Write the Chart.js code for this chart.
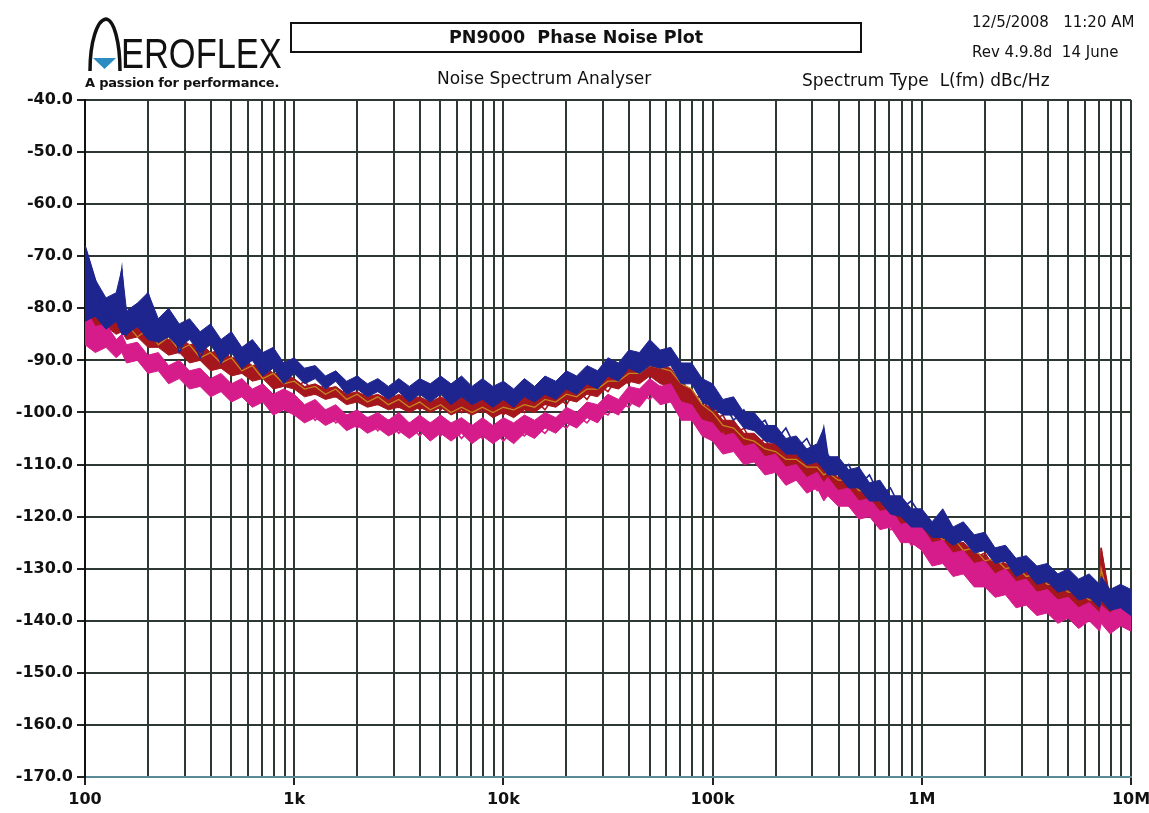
<!DOCTYPE html>
<html><head><meta charset="utf-8">
<script src="https://cdn.jsdelivr.net/npm/chart.js@4/dist/chart.umd.min.js"></script>
<style>
html,body{margin:0;padding:0;background:#fff;}
#wrap{position:relative;width:1149px;height:813px;overflow:hidden;}
#c{position:absolute;left:0;top:0;}
.t{position:absolute;font-family:'DejaVu Sans',sans-serif;color:#111;white-space:pre;line-height:1;}
#titlebox{position:absolute;left:290px;top:22px;width:568px;height:27px;border:2px solid #111;text-align:center;font-family:'DejaVu Sans',sans-serif;font-weight:bold;font-size:17.5px;line-height:27px;color:#111;white-space:pre;}
#logo{position:absolute;left:0;top:0;}
#brand{position:absolute;left:121px;top:33px;font-family:'Liberation Sans',Arial,sans-serif;font-size:42px;line-height:1;color:#111;transform:scaleX(0.82);transform-origin:0 0;white-space:pre;}
#tag{position:absolute;left:85px;top:76px;font-family:'DejaVu Sans',sans-serif;font-weight:bold;font-size:13px;line-height:1;color:#111;white-space:pre;letter-spacing:-0.2px;}
</style></head>
<body>
<div id="wrap">
<canvas id="c" width="1149" height="813"></canvas>
<svg id="logo" width="300" height="100">
  <path d="M 90 71 C 90 42, 97 20, 106 19 C 114 20, 120 42, 120 71" fill="none" stroke="#111" stroke-width="3.5"/>
  <polygon points="93,58 116,58 104.5,69" fill="#2a8cc0"/>
</svg>
<div id="brand">EROFLEX</div>
<div id="tag">A passion for performance.</div>
<div id="titlebox">PN9000  Phase Noise Plot</div>
<div class="t" style="left:972px;top:15px;font-size:15px;">12/5/2008   11:20 AM</div>
<div class="t" style="left:972px;top:45px;font-size:15px;">Rev 4.9.8d  14 June</div>
<div class="t" style="left:437px;top:70px;font-size:17px;">Noise Spectrum Analyser</div>
<div class="t" style="left:802px;top:72px;font-size:17px;">Spectrum Type  L(fm) dBc/Hz</div>
</div>
<script>
// ---- data ----
const freqs = [100,112,126,141,150,158,178,200,224,251,282,316,355,398,447,501,562,631,708,794,891,
1000,1120,1260,1410,1580,1780,2000,2240,2510,2820,3160,3550,3980,4470,5010,5620,6310,7080,7940,8910,
10000,11200,12600,14100,15800,17800,20000,22400,25100,28200,31600,35500,39800,44700,50100,56200,63100,70800,79400,89100,
100000,112000,126000,141000,158000,178000,200000,224000,251000,282000,316000,340000,355000,398000,447000,501000,562000,631000,708000,794000,891000,
1000000,1120000,1260000,1410000,1580000,1780000,2000000,2240000,2510000,2820000,3160000,3550000,3980000,4470000,5010000,5620000,6310000,7080000,7200000,7940000,8910000,
10000000];

// noisy trace readings (dBc/Hz)
const blueVals = [-68,-74.5,-83,-80,-72.5,-85,-81.5,-77,-84,-81,-88.5,-84.5,-89.5,-85.5,-90.5,-86.5,-91.5,-87.5,-92.5,-88.5,-93.5,
-91,-93.5,-91.5,-94,-92.5,-95,-93,-95.5,-94,-96.5,-94.5,-97,-94.5,-97.5,-94.5,-98,-94.5,-98,-95,-98.5,
-95.5,-98,-95,-97.5,-94.5,-97,-93.5,-96,-92.5,-95,-91,-93.5,-89.5,-92,-86.5,-90.5,-88.5,-93,-91.5,-96.5,
-99.5,-98,-101.5,-99.5,-103,-101.5,-105.5,-103,-107,-105,-109,-103,-108,-111.5,-110,-114,-112,-116,-114.5,-118.5,-117,
-120,-122.5,-119.5,-124,-122.5,-126,-124.5,-128,-126.5,-130,-128.5,-132,-130.5,-133.5,-131.5,-134.5,-132.5,-135.5,-133.5,-136.5,-134,
-137.5];
// noise band envelopes (upper / lower edge)
const blueHi = [-68,-74.5,-78,-77,-72.5,-80.5,-79,-77,-82,-80,-83,-82,-84.5,-83,-86,-84.5,-87.5,-86,-88.5,-87.5,-90.5,
-89.5,-91.5,-91,-93,-92,-94,-93,-94.5,-93.5,-95,-93.5,-95,-93.5,-94.5,-93,-94.5,-93,-95,-93.5,-95,
-94,-95.5,-93.5,-95,-93,-94,-92,-93,-91,-92,-89.5,-90.5,-88,-88.5,-86,-88,-87.5,-90.5,-90.5,-93.5,
-94.5,-97.5,-97,-100,-100,-102.5,-102.5,-105,-104.5,-107,-106,-103,-108.5,-108.5,-111,-110.5,-113.5,-113,-116,-116,-118.5,
-118.5,-121,-118.5,-122,-121,-123.5,-123,-126,-125.5,-128,-127.5,-129.5,-129,-131,-130,-132,-131,-133,-131.5,-134,-133,
-134];
const blueLo = [-82.5,-81.5,-84,-82.5,-85,-85,-83.5,-86,-86.5,-85.5,-87.5,-86,-88.5,-87,-90,-88.5,-91.5,-90,-93,-91.5,-94.5,
-92.5,-94.5,-93.5,-95.5,-94,-96.5,-95.5,-97,-96,-97.5,-96,-98,-96.5,-98,-96.5,-98.5,-97,-98.5,-97.5,-99,
-97.5,-99,-97,-98,-96.5,-97.5,-95.5,-96.5,-94.5,-95.5,-93,-94,-91.5,-92.5,-91,-91.5,-91,-94.5,-94.5,-98,
-99,-100.5,-100.5,-103,-103.5,-105.5,-106,-108,-108,-110,-109.5,-111,-112,-112,-114.5,-114.5,-117,-117,-119.5,-120,-122,
-122,-124,-124,-125.5,-124.5,-127,-126.5,-129,-128.5,-131.5,-130.5,-133,-132.5,-134.5,-134,-136,-135.5,-137.5,-136,-138,-137.5,
-139];

const redVals = [-79.5,-83,-81,-84,-82,-85,-83,-86.5,-84.5,-88,-86,-89.5,-87.5,-90.5,-88.5,-91.5,-90,-93,-91,-94,-92.5,
-95.5,-94,-96.5,-94.5,-97,-95.5,-97.5,-96,-98.5,-96.5,-99,-97,-99.5,-97.5,-99.5,-97.5,-100,-98,-100,-98,
-100.5,-98,-100,-97.5,-99.5,-96.5,-98.5,-95.5,-97.5,-94.5,-96,-93,-94.5,-91.5,-93,-90.5,-94,-93.5,-97,-97,
-101.5,-100.5,-104.5,-103,-106.5,-105,-108.5,-107,-110,-108.5,-111.5,-110.5,-112,-111.5,-114.5,-113.5,-116.5,-115.5,-119,-118,-121.5,
-121.5,-124.5,-123.5,-126,-125,-128,-127,-130,-128.5,-131,-130,-133,-132,-134.5,-133,-136,-134.5,-137,-126,-137.5,-136,
-138];
const redHi = [-78.5,-80.5,-80.5,-82,-81.5,-83,-82.5,-84.5,-84,-86,-85.5,-87,-86.5,-88.5,-88,-89.5,-89.5,-91,-90.5,-92.5,-92.5,
-93.5,-95,-94.5,-95.5,-95,-96.5,-96,-97,-96.5,-97.5,-96.5,-97.5,-97,-98,-97,-98,-97,-98.5,-97.5,-98.5,
-97.5,-98,-96.5,-97,-95.5,-96,-94.5,-95,-93.5,-94,-92,-92.5,-90.5,-91,-89.5,-91,-91.5,-94.5,-95.5,-98.5,
-99,-101.5,-101.5,-104,-104,-106,-106,-108,-108,-110,-109.5,-111,-110.5,-112.5,-112.5,-114.5,-115,-117,-117,-119.5,-119.5,
-121,-123,-123,-125,-125,-127,-127.5,-129,-129,-130.5,-130,-131.5,-131,-132.5,-132,-134,-133.5,-135,-126,-135.5,-135,
-136];
const redLo = [-82.5,-84,-83.5,-85,-84.5,-86,-85.5,-87.5,-87.5,-89,-88.5,-90.5,-90,-92,-91.5,-93,-92.5,-94,-93.5,-95.5,-95,
-95.5,-97,-96.5,-97.5,-97,-98.5,-98,-99,-98.5,-99.5,-99,-100,-99,-100,-99,-100.5,-99.5,-100.5,-99.5,-101,
-100,-101,-99.5,-100,-98.5,-99,-97.5,-98,-96.5,-97,-95,-95.5,-94,-94.5,-93,-94.5,-95,-98,-99,-102,
-103,-105,-105.5,-107.5,-107.5,-109.5,-109.5,-111.5,-111.5,-113,-112.5,-114,-113.5,-115.5,-115.5,-117.5,-118,-120.5,-120.5,-123,-123,
-124.5,-126.5,-126.5,-128.5,-128.5,-130.5,-131,-132.5,-132.5,-134,-133.5,-135,-134.5,-136,-135.5,-137.5,-137,-138.5,-138,-139,-138.5,
-139.5];

const brownVals = [-81,-80,-83.5,-82,-84,-83,-85.5,-84,-87,-85.5,-88,-87,-89.5,-88.5,-90.5,-89.5,-92,-91,-93.5,-92.5,-94.5,
-94,-95.5,-95,-96.5,-95.5,-97.5,-96.5,-98,-97,-98.5,-97.5,-99,-98,-99.5,-98.5,-100,-99,-100,-99,-100,
-99,-99.5,-98.5,-99,-97.5,-98,-96.5,-97,-95.5,-95.5,-94,-94,-92.5,-92.5,-91,-91.5,-92,-94.5,-95.5,-98.5,
-100,-102.5,-103,-105,-105.5,-107,-107.5,-109,-109,-110.5,-110.5,-112,-111.5,-113,-113,-115,-115,-117,-117.5,-119.5,-120,
-122,-122,-124.5,-124,-126.5,-126,-128.5,-128,-130,-129.5,-131.5,-131,-133,-133,-134.5,-134.5,-136,-136,-130,-137,-137.5,
-135];

const magentaVals = [-83,-87.5,-85.5,-88.5,-87,-90,-88.5,-92,-90,-93.5,-91.5,-95,-93,-96,-94.5,-97,-95.5,-98.5,-96.5,-99.5,-97.5,
-100.5,-99,-101.5,-99.5,-102,-100.5,-103,-101,-103.5,-101.5,-104,-102,-104.5,-102,-104.5,-102.5,-105,-102.5,-105,-103,
-105.5,-103,-104.5,-102.5,-104,-101.5,-103,-100.5,-102,-99.5,-100.5,-98,-99,-96,-97.5,-95,-98,-98,-101,-101.5,
-105,-104,-107,-106.5,-109,-108.5,-111,-110.5,-113,-112.5,-115,-113.5,-115.5,-115,-118,-117,-120,-119.5,-122.5,-122,-125.5,
-124.5,-128,-127,-130.5,-129,-132,-131,-134,-132.5,-135.5,-134.5,-137,-136,-139,-137.5,-140,-138.5,-141,-139,-141,-139.5,
-141.5];
const magentaHi = [-80,-83.5,-83,-86,-85,-87,-86.5,-89,-88.5,-91,-90,-92,-91.5,-93.5,-92.5,-94.5,-93.5,-95.5,-94.5,-96.5,-95.5,
-96.5,-98.5,-97.5,-99.5,-98.5,-100.5,-99.5,-101,-100,-101.5,-100,-102,-100.5,-102,-100.5,-102,-101,-102.5,-101,-102.5,
-101,-102,-100.5,-101.5,-100,-101,-99,-100,-98,-98.5,-96.5,-97.5,-95,-95.5,-93.5,-95,-94.5,-98,-98.5,-101.5,
-102,-104.5,-104,-106.5,-106,-108.5,-108,-110.5,-110,-112.5,-111.5,-113.5,-112.5,-115,-114.5,-117,-116.5,-119,-118.5,-121.5,-121,
-122,-125,-124.5,-127,-126.5,-129,-128.5,-131,-130,-132.5,-132,-134.5,-134,-136,-135.5,-137.5,-136.5,-138.5,-137,-138.5,-137,
-138];
const magentaLo = [-87,-88.5,-87.5,-89.5,-88.5,-90.5,-90,-92.5,-92,-94.5,-93.5,-95.5,-95,-97,-96,-98,-97,-99,-98,-100.5,-99.5,
-100.5,-102,-101,-102.5,-101.5,-103.5,-102.5,-104,-103,-104.5,-103.5,-105,-103.5,-105.5,-104,-105.5,-104,-106,-104.5,-106,
-104.5,-106,-104,-105,-103,-104,-102,-103,-101,-102,-99.5,-100.5,-98,-99,-96.5,-98.5,-98,-101.5,-101.5,-104.5,
-105.5,-108,-107.5,-110,-109.5,-112,-111.5,-114,-113,-115.5,-114.5,-117,-116,-118,-118,-120.5,-120,-122.5,-122,-125,-125,
-126.5,-129.5,-129,-131.5,-131,-133.5,-133.5,-135.5,-135,-137.5,-137,-139,-138.5,-140.5,-139.5,-141.5,-140,-142,-140.5,-142.5,-141,
-142];

const xDecades = [100,1000,10000,100000,1000000,10000000];
const xTickLabels = ['100','1k','10k','100k','1M','10M'];
const xMultipliers = [1,2,3,4,5,6,7,8,9];
const yMin = -170, yMax = -40, yStep = 10;

// ---- chart ----
const pts = vals => freqs.map((f,i)=>({x:f,y:vals[i]}));
const gridCol = '#2e3833';
const tickFont = {family:"'DejaVu Sans', sans-serif", weight:'bold', size:16};
const C = {blue:'#1f258e', red:'#a5161d', brown:'#c4861e', mag:'#d61c8b'};
const band = (hi, lo, col, ord) => [
  {data:pts(hi), borderWidth:1, borderColor:col, fill:false, order:ord},
  {data:pts(lo), borderWidth:1, borderColor:col, backgroundColor:col, fill:'-1', order:ord}
];

new Chart(document.getElementById('c'), {
  type:'line',
  data:{datasets:[
    {label:'Trace 1', data:pts(blueVals), borderColor:C.blue, borderWidth:1.6, order:1},
    ...band(blueHi, blueLo, C.blue, 1.1),
    {label:'Trace 4', data:pts(magentaVals), borderColor:C.mag, borderWidth:1.6, order:2},
    ...band(magentaHi, magentaLo, C.mag, 2.1),
    {label:'Trace 3', data:pts(brownVals), borderColor:C.brown, borderWidth:1.3, order:2.5},
    {label:'Trace 2', data:pts(redVals), borderColor:C.red, borderWidth:1.6, order:3},
    ...band(redHi, redLo, C.red, 3.1)
  ]},
  options:{
    responsive:false, animation:false, devicePixelRatio:1,
    elements:{point:{radius:0}, line:{tension:0}},
    layout:{padding:{top:100,right:18,left:0,bottom:0}},
    plugins:{legend:{display:false}, tooltip:{enabled:false}},
    scales:{
      x:{
        type:'logarithmic', min:100, max:10000000, position:'bottom',
        afterBuildTicks:(s)=>{
          const t=[];
          xDecades.forEach(d=>{ xMultipliers.forEach(m=>{ const v=d*m; if(v<=10000000) t.push({value:v}); }); });
          s.ticks=t;
        },
        afterFit:(s)=>{ s.height=36; s.paddingLeft=0; s.paddingRight=0; },
        ticks:{autoSkip:false, maxRotation:0, minRotation:0, color:'#111', font:tickFont, padding:5,
          callback:(v)=>{ const i=xDecades.indexOf(v); return i>=0?xTickLabels[i]:''; }},
        grid:{color:gridCol, lineWidth:2, drawTicks:true, tickLength:8,
          tickColor:(ctx)=> (ctx.tick && xDecades.indexOf(ctx.tick.value)>=0) ? '#222' : 'rgba(0,0,0,0)'},
        border:{display:true, color:'#5a8a96', width:2}
      },
      y:{
        type:'linear', min:yMin, max:yMax,
        afterFit:(s)=>{ s.width=85; s.paddingTop=0; s.paddingBottom=0; },
        ticks:{stepSize:yStep, color:'#111', font:tickFont, padding:4,
          callback:(v)=> Number(v).toFixed(1)},
        grid:{color:gridCol, lineWidth:2, tickLength:8, tickColor:'#222'},
        border:{display:true, color:'#111', width:2}
      }
    }
  }
});
</script>
</body></html>
